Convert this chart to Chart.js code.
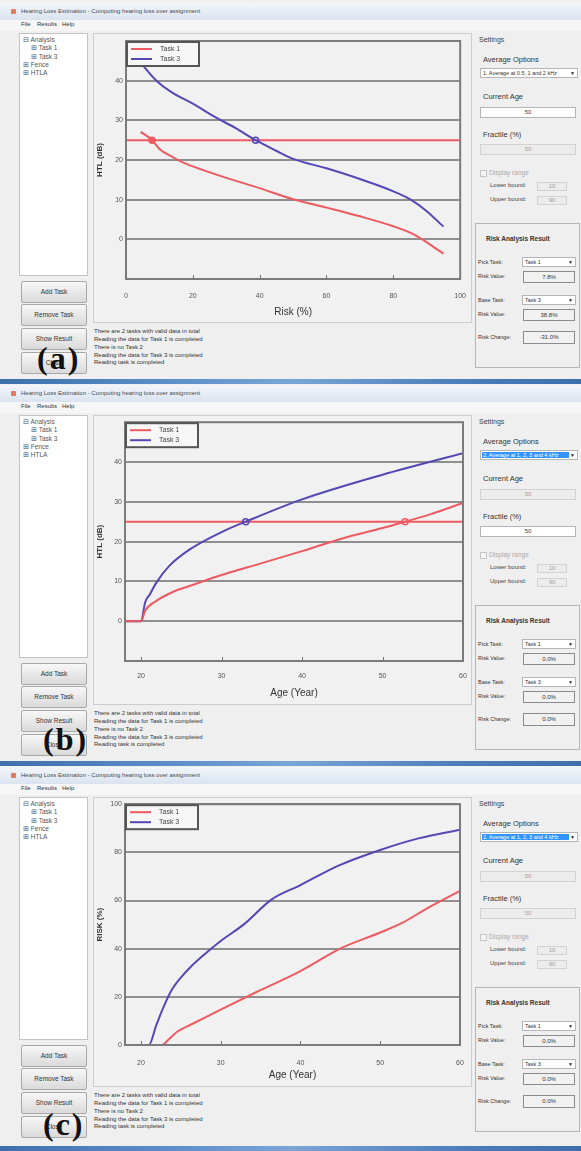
<!DOCTYPE html>
<html>
<head>
<meta charset="utf-8">
<title>Hearing Loss Estimation</title>
<script src="https://cdn.jsdelivr.net/npm/chart.js@4.4.1/dist/chart.umd.min.js"></script>
<style>
html,body{margin:0;padding:0}
body{width:581px;height:1151px;position:relative;overflow:hidden;background:#f7f8fa;font-family:"Liberation Sans",Arial,sans-serif;color:#333}
.panel{position:absolute;left:0;width:581px;height:382px;background:#efefef;overflow:hidden}
.a{position:absolute;white-space:nowrap}
.btn{position:absolute;left:21px;width:64px;height:20px;border:1px solid #a8a8a8;border-radius:2px;background:linear-gradient(#f7f7f7,#dadada);font-size:6.5px;line-height:20px;text-align:center;color:#333}
.in{position:absolute;border:1px solid #b5b5b5;text-align:center;font-size:6px;color:#444;box-sizing:border-box}
.dis{background:#ececec;color:#a0a0a0;border-color:#d2d2d2}
.en{background:#fff}
.val{background:#f1f1f1;border:1px solid #8c8c8c;color:#333}
.strip{position:absolute;left:0;width:581px;height:5px;background:linear-gradient(90deg,#3d6fab,#5d8fca 30%,#7aa5d6 50%,#4b7dba 80%,#3d6fab);z-index:5}
.lbl{position:absolute;font-family:"Liberation Serif","Times New Roman",serif;font-weight:bold;font-size:32px;line-height:32px;letter-spacing:2px;color:#111;z-index:4}
canvas{position:absolute}
</style>
</head>
<body>
<div id="pA" class="panel" style="top:0"></div>
<div id="pB" class="panel" style="top:382px"></div>
<div id="pC" class="panel" style="top:764px;height:387px"></div>
<div class="strip" style="top:379px"></div>
<div class="strip" style="top:761px"></div>
<div class="strip" style="top:1146px"></div>
<script>
// ---------------- DATA ----------------
// Panel (a): HTL (dB) vs Risk (%)
const aTicksX = [0, 20, 40, 60, 80, 100];
const aTicksY = [0, 10, 20, 30, 40];
const aTask1Risk = [4.4, 7.8, 10, 13.6, 16, 20, 30, 40, 50, 60, 70, 80, 85, 89, 92, 95];
const aTask1HTL  = [27.1, 25, 22.8, 20.9, 19.8, 18.4, 15.5, 12.9, 10.1, 8.0, 5.8, 3.3, 1.7, -0.2, -1.9, -3.6];
const aTask3Risk = [5.1, 9.1, 13.6, 20, 26.7, 32.7, 38.8, 44.8, 50, 60, 70, 80, 85.2, 90, 95];
const aTask3HTL  = [43.8, 40, 37.1, 34.2, 30.8, 28.1, 25, 22.4, 20.3, 17.9, 15.2, 12.1, 10, 7.1, 3.2];
const aThreshold = 25;
const aMarkerRisk = [7.8, 38.8];

// Panel (b): HTL (dB) vs Age (Year)
const bTicksX = [20, 30, 40, 50, 60];
const bTicksY = [0, 10, 20, 30, 40];
const bTask1Age = [18, 20, 20.5, 21.9, 24, 26.1, 30, 35, 40, 45, 50, 52.8, 56, 60];
const bTask1HTL = [0, 0, 2.6, 5.1, 7.4, 8.9, 11.6, 14.6, 17.6, 20.8, 23.4, 25, 26.9, 29.7];
const bTask3Age = [18, 20, 20.5, 21.1, 21.9, 23.5, 26.1, 30, 33, 40, 50, 60];
const bTask3HTL = [0, 0, 4.7, 6.8, 9.7, 13.9, 18.1, 22.4, 25, 30.6, 36.8, 42.2];
const bThreshold = 25;
const bMarkerAge = [52.8, 33];

// Panel (c): RISK (%) vs Age (Year)
const cTicksX = [20, 30, 40, 50, 60];
const cTicksY = [0, 20, 40, 60, 80, 100];
const cTask1Age  = [18, 22.6, 23.5, 24.5, 25.3, 26.1, 30, 34.3, 40, 45.1, 50, 52.8, 56.1, 60];
const cTask1Risk = [0, 0, 2.4, 5.4, 6.9, 8.2, 14.7, 21.7, 30.7, 40.2, 46.7, 50.8, 57.2, 64];
const cTask3Age  = [18, 21, 21.9, 22.8, 23.8, 25, 26.1, 28.2, 30, 32.9, 36.4, 40, 44.7, 50, 54.8, 60];
const cTask3Risk = [0, 0, 8, 15.5, 22.5, 28, 32, 38.3, 43.2, 50.1, 60.5, 66.4, 74.4, 81, 85.8, 89.4];

const seriesNames = ['Task 1', 'Task 3'];
const messages = [
  'There are 2 tasks with valid data in total',
  'Reading the data for Task 1 is completed',
  'There is no Task 2',
  'Reading the data for Task 3 is completed',
  'Reading task is completed'
];

// ---------------- UI ----------------
function t(x, y, s, size, css) {
  return `<div class="a" style="left:${x}px;top:${(y - size * 0.6).toFixed(1)}px;font-size:${size}px;line-height:${(size * 1.2).toFixed(1)}px;${css || ''}">${s}</div>`;
}
function inp(x, y, w, h, s, cls) {
  return `<div class="in ${cls}" style="left:${x}px;top:${y}px;width:${w}px;height:${h}px;line-height:${h - 2}px">${s}</div>`;
}
function dd(x, y, w, h, s, sel) {
  let inner = sel
    ? `<span style="position:absolute;left:1px;top:1px;height:${h - 4}px;width:${w - 12}px;background:#3393ff;color:#fff;line-height:${h - 4}px;padding-left:1px;overflow:hidden">${s}</span>`
    : `<span style="position:absolute;left:2px;top:0;line-height:${h - 2}px">${s}</span>`;
  return `<div class="in en" style="left:${x}px;top:${y}px;width:${w}px;height:${h}px;text-align:left;font-size:5.5px;color:#333">${inner}<span style="position:absolute;right:2px;top:0;line-height:${h - 2}px;font-size:5px;color:#222">▼</span></div>`;
}
function panelHTML(p) {
  let h = '';
  h += `<div class="a" style="left:0;top:3px;width:581px;height:17px;background:linear-gradient(#f3f6fa,#d9e3ef)"></div>`;
  h += `<div class="a" style="left:11px;top:9px;width:5px;height:5px;background:#e07a5a;border-radius:1px"></div>`;
  h += t(21, 12, 'Hearing Loss Estimation - Computing hearing loss over assignment', 6, 'color:#4a4a4a');
  h += `<div class="a" style="left:0;top:20px;width:581px;height:11px;background:#f6f6f6"></div>`;
  h += t(21, 25, 'File', 6) + t(37, 25, 'Results', 6) + t(62, 25, 'Help', 6);
  // tree
  h += `<div class="a" style="left:19px;top:33px;width:67px;height:241px;background:#fff;border:1px solid #c3c3c3"></div>`;
  h += t(23, 40, '⊟ Analysis', 6.5, 'color:#555');
  h += t(31, 48, '⊞ Task 1', 6.5, 'color:#555');
  h += t(31, 57, '⊞ Task 3', 6.5, 'color:#555');
  h += t(23, 65, '⊞ Fence', 6.5, 'color:#555');
  h += t(23, 73, '⊞ HTLA', 6.5, 'color:#555');
  // buttons
  [['Add Task', 281], ['Remove Task', 304], ['Show Result', 328], ['Close', 352]].forEach(b => {
    h += `<div class="btn" style="top:${b[1]}px">${b[0]}</div>`;
  });
  h += `<div class="lbl" style="left:${p.lx}px;top:${p.ly}px">${p.label}</div>`;
  // chart frame + canvas
  h += `<div class="a" style="left:93px;top:33px;width:377px;height:288px;border:1px solid #cdcdcd;background:#f1f1f1"></div>`;
  h += `<canvas id="${p.canvas}" width="378" height="289" style="left:93px;top:33px"></canvas>`;
  // messages
  messages.forEach((m, i) => { h += t(94, 332 + i * 7.7, m, 6, 'color:#333'); });
  // settings
  h += t(479, 40, 'Settings', 7, 'color:#444');
  h += t(483, 59, 'Average Options', 7.5, 'color:#333');
  h += dd(480, 68, 98, 10, p.avg, p.avgSel);
  h += t(483, 96, 'Current Age', 7.5, 'color:#333');
  h += inp(480, 107, 96, 11, '50', p.ageEn ? 'en' : 'dis');
  h += t(483, 134, 'Fractile (%)', 7.5, 'color:#333');
  h += inp(480, 144, 96, 11, '50', p.fracEn ? 'en' : 'dis');
  h += `<div class="a" style="left:480px;top:170px;width:5px;height:5px;border:1px solid #c5c5c5;background:#f4f4f4"></div>`;
  h += t(489, 173, 'Display range', 6.5, 'color:#aaa');
  h += t(490, 186, 'Lower bound:', 6, 'color:#444');
  h += inp(537, 182, 30, 9, '10', 'dis');
  h += t(490, 200, 'Upper bound:', 6, 'color:#444');
  h += inp(537, 196, 30, 9, '90', 'dis');
  // risk group
  h += `<div class="a" style="left:475px;top:223px;width:103px;height:143px;border:1px solid #b5b5b5"></div>`;
  h += t(486, 239, 'Risk Analysis Result', 6.5, 'font-weight:bold;color:#333');
  h += t(478, 262, 'Pick Task:', 5.5);
  h += dd(522, 257, 54, 10, 'Task 1', false);
  h += t(478, 276, 'Risk Value:', 5.5);
  h += inp(523, 271, 52, 12, p.rv1, 'val');
  h += t(478, 300, 'Base Task:', 5.5);
  h += dd(522, 295, 54, 10, 'Task 3', false);
  h += t(478, 314, 'Risk Value:', 5.5);
  h += inp(523, 309, 52, 12, p.rv2, 'val');
  h += t(478, 337, 'Risk Change:', 5.5);
  h += inp(523, 331, 52, 13, p.rc, 'val');
  return h;
}
document.getElementById('pA').innerHTML = panelHTML({canvas: 'cA', label: '(a)', lx: 37, ly: 342,
  avg: '1. Average at 0.5, 1 and 2 kHz', avgSel: false, ageEn: true, fracEn: false, rv1: '7.8%', rv2: '38.8%', rc: '-31.0%'});
document.getElementById('pB').innerHTML = panelHTML({canvas: 'cB', label: '(b)', lx: 43, ly: 341,
  avg: '2. Average at 1, 2, 3 and 4 kHz', avgSel: true, ageEn: false, fracEn: true, rv1: '0.0%', rv2: '0.0%', rc: '0.0%'});
document.getElementById('pC').innerHTML = panelHTML({canvas: 'cC', label: '(c)', lx: 43, ly: 344,
  avg: '2. Average at 1, 2, 3 and 4 kHz', avgSel: true, ageEn: false, fracEn: false, rv1: '0.0%', rv2: '0.0%', rc: '0.0%'});

// ---------------- CHARTS ----------------
const RED = '#ee5a61', BLUE = '#5547b4';
Chart.defaults.font.family = "'Liberation Sans', Arial, sans-serif";

function curve(xs, ys, color, label) {
  return { label, inLegend: true, order: 1, data: xs.map((x, i) => ({ x, y: ys[i] })),
    borderColor: color, backgroundColor: color, borderWidth: 2, pointRadius: 0,
    cubicInterpolationMode: 'monotone', fill: false };
}
function hline(xMin, xMax, y, color) {
  return { label: 'threshold', order: 2, data: [{ x: xMin, y }, { x: xMax, y }],
    borderColor: color, borderWidth: 2, pointRadius: 0, fill: false };
}
function marker(x, y, color, filled) {
  return { label: 'marker', order: 0, data: [{ x, y }], showLine: false, pointRadius: 3,
    pointBorderWidth: 1.5, pointBorderColor: color, pointBackgroundColor: filled ? color : 'rgba(0,0,0,0)' };
}

const framePlugin = {
  id: 'frameLegend',
  afterDatasetsDraw(chart) {
    const { ctx, chartArea: a } = chart;
    const xs = chart.scales.x;
    ctx.save();
    ctx.strokeStyle = '#7b7b7b'; ctx.lineWidth = 2;
    ctx.strokeRect(a.left, a.top, a.right - a.left, a.bottom - a.top);
    ctx.lineWidth = 1; ctx.strokeStyle = '#777';
    xs.ticks.forEach(tk => {
      const px = Math.round(xs.getPixelForValue(tk.value)) + 0.5;
      ctx.beginPath(); ctx.moveTo(px, a.bottom); ctx.lineTo(px, a.bottom - 4); ctx.stroke();
    });
    const items = chart.data.datasets.filter(d => d.inLegend);
    const lx = a.left + 1, ly = a.top + 1;
    ctx.fillStyle = '#f7f7f7'; ctx.fillRect(lx, ly, 72, 24);
    ctx.strokeStyle = '#555'; ctx.lineWidth = 2; ctx.strokeRect(lx, ly, 72, 24);
    ctx.font = "7px 'Liberation Sans', Arial, sans-serif"; ctx.textBaseline = 'middle';
    items.forEach((d, i) => {
      const y = a.top + 8 + i * 10;
      ctx.strokeStyle = d.borderColor; ctx.lineWidth = 2;
      ctx.beginPath(); ctx.moveTo(a.left + 5, y); ctx.lineTo(a.left + 26, y); ctx.stroke();
      ctx.fillStyle = '#444'; ctx.fillText(d.label, a.left + 34, y);
    });
    ctx.restore();
  }
};

function makeChart(id, geo, ax, datasets) {
  return new Chart(document.getElementById(id), {
    type: 'line',
    data: { datasets },
    options: {
      responsive: false, animation: false, devicePixelRatio: 1,
      layout: { padding: { top: geo.top, right: geo.right, left: 0, bottom: 0 } },
      plugins: { legend: { display: false }, tooltip: { enabled: false } },
      scales: {
        x: { type: 'linear', min: ax.xMin, max: ax.xMax,
          afterBuildTicks: s => { s.ticks = ax.xTicks.map(v => ({ value: v })); },
          afterFit: s => { s.height = geo.xH; },
          grid: { display: false }, border: { display: false },
          ticks: { color: '#555', font: { size: 7 }, padding: geo.xPad, maxRotation: 0, autoSkip: false },
          title: { display: true, text: ax.xTitle, color: '#333', font: { size: 10 }, padding: { top: 0, bottom: geo.xTitlePad } } },
        y: { type: 'linear', min: ax.yMin, max: ax.yMax,
          afterBuildTicks: s => { s.ticks = ax.yTicks.map(v => ({ value: v })); },
          afterFit: s => { s.width = geo.yW; },
          grid: { color: '#8f8f8f', lineWidth: 2, drawTicks: false }, border: { display: false },
          ticks: { color: '#555', font: { size: 7 }, padding: 3, autoSkip: false },
          title: { display: true, text: ax.yTitle, color: '#333', font: { size: 8, weight: 'bold' }, padding: { top: 2, bottom: 0 } } }
      }
    },
    plugins: [framePlugin]
  });
}

makeChart('cA', { top: 8, right: 9, xH: 43, yW: 33, xPad: 5, xTitlePad: 4 },
  { xMin: 0, xMax: 100, yMin: -10, yMax: 50, xTicks: aTicksX, yTicks: aTicksY, xTitle: 'Risk (%)', yTitle: 'HTL (dB)' },
  [ marker(aMarkerRisk[0], aThreshold, RED, true), marker(aMarkerRisk[1], aThreshold, BLUE, false),
    curve(aTask1Risk, aTask1HTL, RED, seriesNames[0]), curve(aTask3Risk, aTask3HTL, BLUE, seriesNames[1]),
    hline(0, 100, aThreshold, RED) ]);

makeChart('cB', { top: 7, right: 8, xH: 43, yW: 32, xPad: 3, xTitlePad: 5 },
  { xMin: 18, xMax: 60, yMin: -10, yMax: 50, xTicks: bTicksX, yTicks: bTicksY, xTitle: 'Age (Year)', yTitle: 'HTL (dB)' },
  [ marker(bMarkerAge[0], bThreshold, RED, false), marker(bMarkerAge[1], bThreshold, BLUE, false),
    curve(bTask1Age, bTask1HTL, RED, seriesNames[0]), curve(bTask3Age, bTask3HTL, BLUE, seriesNames[1]),
    hline(18, 60, bThreshold, RED) ]);

makeChart('cC', { top: 7, right: 11, xH: 41, yW: 32, xPad: 6, xTitlePad: 5 },
  { xMin: 18, xMax: 60, yMin: 0, yMax: 100, xTicks: cTicksX, yTicks: cTicksY, xTitle: 'Age (Year)', yTitle: 'RISK (%)' },
  [ curve(cTask1Age, cTask1Risk, RED, seriesNames[0]), curve(cTask3Age, cTask3Risk, BLUE, seriesNames[1]) ]);
</script>
</body>
</html>
